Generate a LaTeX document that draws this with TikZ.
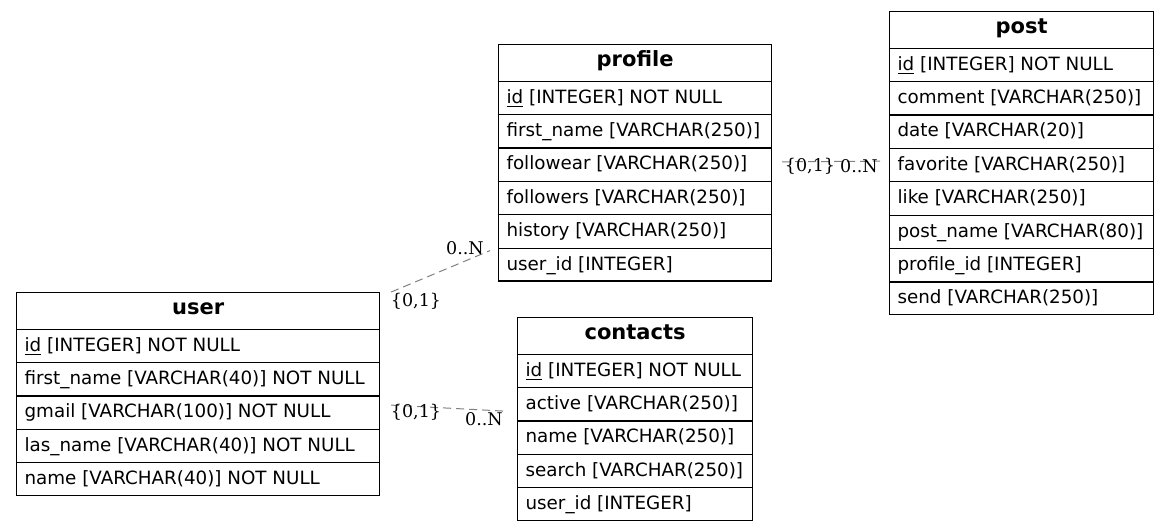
\documentclass[tikz,border=0pt]{standalone}
\usepackage{fontspec}
\setmainfont{DejaVu Sans}
\newfontfamily\cardfont{DejaVu Serif}
\usepackage{array}
\usepackage{tikz}
\usetikzlibrary{positioning}
\setlength{\arrayrulewidth}{0.6pt}
\renewcommand{\arraystretch}{0}
\newcolumntype{F}[1]{@{\hspace{4pt}}p{#1}@{\hspace{4pt}}}
\newcommand{\tname}[1]{\multicolumn{1}{@{\hspace{4pt}}c@{\hspace{4pt}}}{\rule[-7pt]{0pt}{18pt}\fontsize{10.5}{12}\selectfont\bfseries #1}\\\hline}
\newcommand{\fld}[1]{\rule[-5.5pt]{0pt}{16.1pt}#1}
\newcommand{\pk}[1]{\underline{#1}}

\begin{document}
\begin{tikzpicture}[
  x=0.5pt, y=-0.5pt,
  tab/.style={draw, line width=0.6pt, inner sep=0pt, anchor=north west,
              font=\fontsize{9.15}{11}\selectfont},
  rel/.style={draw=gray, line width=0.5pt, dash pattern=on 4pt off 2.5pt},
  card/.style={font=\cardfont\fontsize{8.75}{10}\selectfont, inner sep=0pt}
]
  \useasboundingbox (0,0) rectangle (1169,531);
  % tables
  \node[tab] (user) at (16,292) {\begin{tabular}{F{173.5pt}}
    \tname{user}
    \fld{\pk{id} [INTEGER] NOT NULL}\\\hline
    \fld{first\_name [VARCHAR(40)] NOT NULL}\\\hline
    \fld{gmail [VARCHAR(100)] NOT NULL}\\\hline
    \fld{las\_name [VARCHAR(40)] NOT NULL}\\\hline
    \fld{name [VARCHAR(40)] NOT NULL}
  \end{tabular}};
  \node[tab] (profile) at (498,44) {\begin{tabular}{F{128.5pt}}
    \tname{profile}
    \fld{\pk{id} [INTEGER] NOT NULL}\\\hline
    \fld{first\_name [VARCHAR(250)]}\\\hline
    \fld{followear [VARCHAR(250)]}\\\hline
    \fld{followers [VARCHAR(250)]}\\\hline
    \fld{history [VARCHAR(250)]}\\\hline
    \fld{user\_id [INTEGER]}
  \end{tabular}};
  \node[tab] (post) at (889,11) {\begin{tabular}{F{124pt}}
    \tname{post}
    \fld{\pk{id} [INTEGER] NOT NULL}\\\hline
    \fld{comment [VARCHAR(250)]}\\\hline
    \fld{date [VARCHAR(20)]}\\\hline
    \fld{favorite [VARCHAR(250)]}\\\hline
    \fld{like [VARCHAR(250)]}\\\hline
    \fld{post\_name [VARCHAR(80)]}\\\hline
    \fld{profile\_id [INTEGER]}\\\hline
    \fld{send [VARCHAR(250)]}
  \end{tabular}};
  \node[tab] (contacts) at (517,317) {\begin{tabular}{F{109.5pt}}
    \tname{contacts}
    \fld{\pk{id} [INTEGER] NOT NULL}\\\hline
    \fld{active [VARCHAR(250)]}\\\hline
    \fld{name [VARCHAR(250)]}\\\hline
    \fld{search [VARCHAR(250)]}\\\hline
    \fld{user\_id [INTEGER]}
  \end{tabular}};
  % relations
  \draw[rel] ([shift={(11,0)}]user.north east) -- ([shift={(-8,-31)}]profile.south west);
  \draw[rel] ([shift={(11,11)}]user.east) -- ([shift={(-13,-8)}]contacts.west);
  \draw[rel] ([shift={(10,-1)}]profile.east) -- ([shift={(-9,-2)}]post.west);
  % cardinalities
  \node[card] (upone) at (416,301) {\{0,1\}};
  \node[card] (upmany) at (465,248) {0..N};
  \node[card] (ucone) at (416,412) {\{0,1\}};
  \node[card] (ucmany) at (484,419) {0..N};
  \node[card] (ppone) at (810,166) {\{0,1\}};
  \node[card] (ppmany) at (859,166) {0..N};
\end{tikzpicture}
\end{document}
